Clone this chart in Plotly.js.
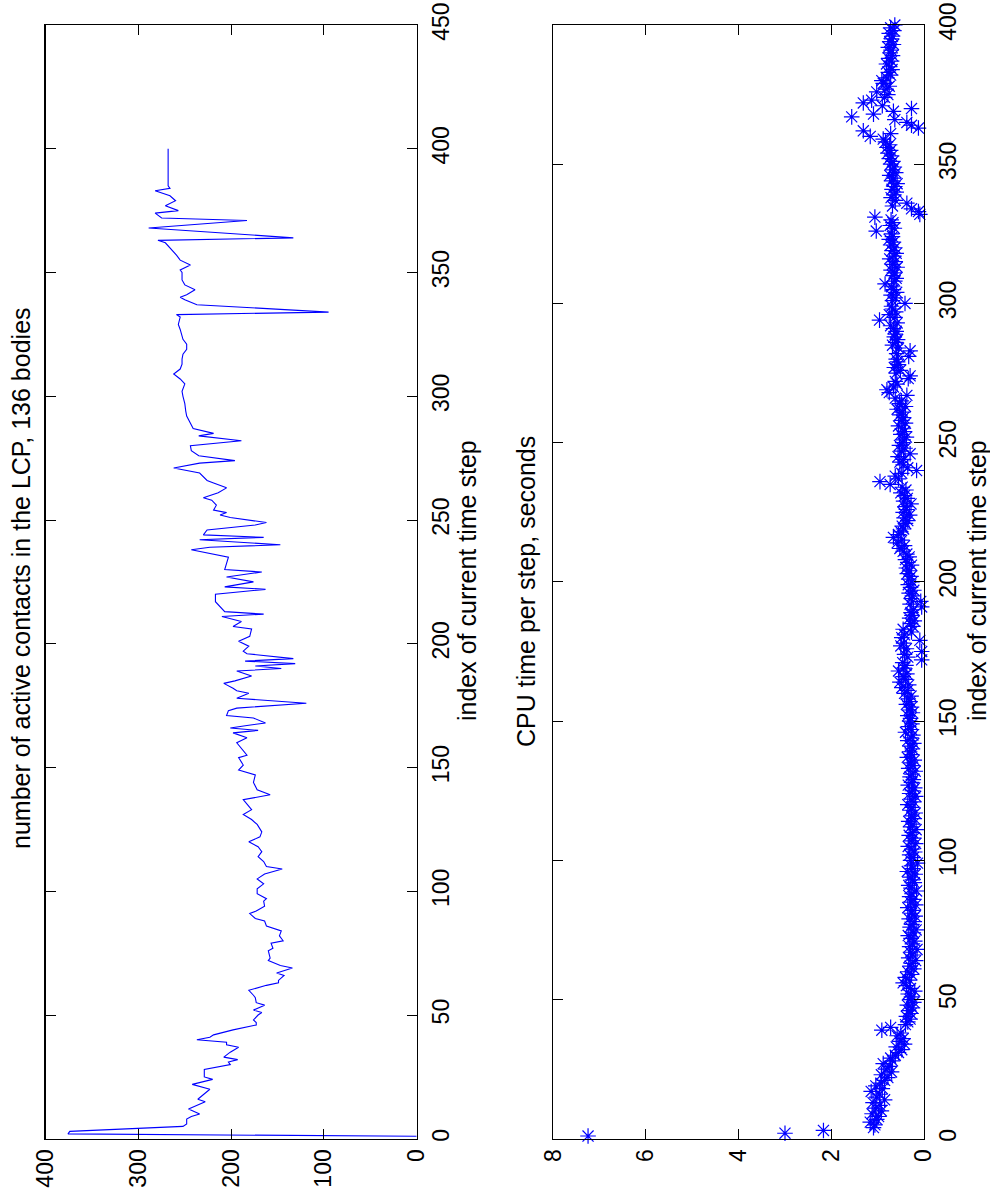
<!DOCTYPE html>
<html>
<head>
<meta charset="utf-8">
<script src="https://cdn.plot.ly/plotly-3.0.1.min.js"></script>
<style>html,body{margin:0;padding:0;background:#fff;}#chart{width:990px;height:1202px;}</style>
</head>
<body>
<div id="chart"></div>
<script>
// ---- Top panel: number of active contacts (line) ----
var contactSteps = [
  1,2,3,5,6,8,9,10,12,13,
  15,16,20,22,24,25,28,30,31,32,
  33,35,37,38,39,40,41,42,44,46,
  47,48,50,51,52,54,55,57,58,60,
  62,63,64,66,67,69,70,72,73,76,
  77,79,80,82,84,86,88,89,91,92,
  94,96,97,99,101,103,105,107,109,110,
  112,114,116,118,120,122,124,127,129,131,
  133,137,139,141,144,147,149,151,154,155,
  158,160,162,164,165,166,167,168,170,171,
  173,174,176,178,180,181,182,184,185,187,
  189,190,191,192,193,194,196,197,199,201,
  203,206,207,209,211,212,213,217,220,222,
  223,225,227,229,230,233,235,238,239,240,
  242,243,244,246,248,249,251,252,253,254,
  256,258,259,261,263,265,266,269,271,273,
  274,276,278,280,282,284,285,287,289,292,
  294,297,300,302,305,307,309,311,313,315,
  317,319,321,323,327,329,332,333,334,337,
  339,340,341,343,345,347,350,351,353,355,
  357,359,362,363,364,368,371,372,374,375,
  377,379,381,383,384,385,389,400
];
var activeContacts = [
  0,376,374,252,248,248,243,234,246,240,
  228,236,223,242,220,229,229,201,203,193,
  208,201,192,205,205,237,223,219,198,173,
  173,176,171,167,176,164,173,174,176,181,
  162,149,149,143,151,134,147,160,158,160,
  155,157,144,148,146,162,164,174,180,173,
  164,165,162,172,172,165,172,164,145,162,
  165,171,167,171,181,169,167,172,178,187,
  178,187,158,172,176,174,192,187,192,183,
  190,194,183,198,171,201,183,163,176,205,
  203,194,119,194,181,194,198,208,196,178,
  194,146,174,131,185,133,183,187,181,192,
  180,178,198,189,210,165,207,217,217,163,
  207,176,205,167,207,205,203,243,223,147,
  234,165,230,226,174,162,201,212,205,219,
  216,221,230,214,205,219,226,234,262,234,
  196,235,243,244,189,235,219,241,244,248,
  249,250,252,253,250,255,262,255,253,253,
  252,248,248,252,255,257,255,259,95,237,
  250,255,248,239,250,253,253,255,244,255,
  259,264,271,279,133,289,183,275,282,257,
  271,260,266,282,266,268,268,268
];

// ---- Bottom panel: CPU time per step (seconds), steps 1..400 ----
var cpuTime = [
  7.25,3.00,2.17,1.09,1.06,1.16,1.02,0.98,1.12,0.92,
  1.05,0.95,1.10,0.85,1.02,0.96,1.14,0.90,1.04,0.93,
  0.85,0.78,0.92,0.70,0.82,0.75,0.88,0.68,0.72,0.62,
  0.55,0.48,0.60,0.42,0.52,0.45,0.58,0.50,0.91,0.72,
  0.40,0.35,0.30,0.38,0.28,0.33,0.25,0.36,0.22,0.30,
  0.27,0.34,0.20,0.29,0.38,0.45,0.31,0.40,0.27,0.35,
  0.22,0.30,0.26,0.18,0.33,0.24,0.29,0.15,0.31,0.25,
  0.20,0.28,0.34,0.23,0.17,0.30,0.26,0.21,0.32,0.19,
  0.27,0.24,0.35,0.18,0.29,0.22,0.31,0.26,0.16,0.28,
  0.33,0.21,0.25,0.30,0.19,0.36,0.24,0.27,0.14,0.29,
  0.23,0.31,0.20,0.26,0.34,0.18,0.28,0.22,0.32,0.25,
  0.17,0.29,0.24,0.33,0.21,0.27,0.19,0.30,0.26,0.35,
  0.22,0.28,0.18,0.31,0.25,0.20,0.34,0.27,0.23,0.30,
  0.26,0.19,0.33,0.24,0.29,0.21,0.36,0.27,0.31,0.25,
  0.30,0.22,0.35,0.28,0.24,0.40,0.27,0.33,0.26,0.31,
  0.29,0.35,0.25,0.32,0.27,0.38,0.30,0.34,0.28,0.42,
  0.36,0.48,0.33,0.52,0.40,0.45,0.37,0.55,0.43,0.39,
  0.46,0.05,0.35,0.42,0.05,0.38,0.50,0.44,0.09,0.48,
  0.42,0.27,0.45,0.24,0.29,0.21,0.31,0.26,0.28,0.23,
  0.05,0.30,0.07,0.27,0.25,0.32,0.22,0.29,0.34,0.26,
  0.33,0.28,0.36,0.31,0.38,0.27,0.35,0.40,0.32,0.37,
  0.45,0.52,0.42,0.58,0.48,0.66,0.55,0.50,0.44,0.47,
  0.40,0.35,0.43,0.31,0.45,0.38,0.41,0.28,0.44,0.36,
  0.42,0.50,0.39,0.47,0.73,0.95,0.55,0.62,0.48,0.16,
  0.35,0.45,0.52,0.44,0.56,0.30,0.49,0.41,0.53,0.46,
  0.45,0.38,0.50,0.42,0.47,0.55,0.40,0.48,0.44,0.52,
  0.46,0.58,0.40,0.53,0.49,0.62,0.37,0.75,0.80,0.66,
  0.58,0.62,0.34,0.30,0.60,0.51,0.64,0.55,0.57,0.60,
  0.33,0.59,0.30,0.55,0.68,0.61,0.57,0.64,0.62,0.60,
  0.66,0.72,0.58,0.96,0.63,0.75,0.61,0.68,0.70,0.41,
  0.68,0.62,0.71,0.59,0.66,0.70,0.84,0.63,0.60,0.67,
  0.64,0.71,0.58,0.68,0.62,0.74,0.65,0.60,0.69,0.63,
  0.72,0.66,0.75,0.68,0.70,1.03,0.64,0.73,0.67,0.71,
  1.06,0.09,0.12,0.27,0.68,0.37,0.62,0.71,0.65,0.60,
  0.69,0.63,0.58,0.70,0.66,0.74,0.61,0.68,0.64,0.72,
  0.67,0.75,0.70,0.78,0.72,0.80,0.74,0.83,0.88,1.16,
  0.72,1.31,0.12,0.27,0.37,0.63,1.56,1.09,0.66,0.27,
  0.90,1.31,1.13,0.85,0.78,1.02,0.82,0.75,0.88,0.91,
  0.80,0.72,0.77,0.69,0.74,0.81,0.70,0.76,0.68,0.73,
  0.71,0.77,0.66,0.74,0.70,0.68,0.75,0.65,0.72,0.63
];
var cpuSteps = cpuTime.map(function (v, i) { return i + 1; });

// ---- Tick labels / texts ----
var contactTicks = [0, 100, 200, 300, 400];
var cpuTicks = [0, 2, 4, 6, 8];
var stepTicksTop = [0, 50, 100, 150, 200, 250, 300, 350, 400, 450];
var stepTicksBottom = [0, 50, 100, 150, 200, 250, 300, 350, 400];
var titleTop = 'number of active contacts in the LCP, 136 bodies';
var titleBottom = 'CPU time per step, seconds';
var stepLabel = 'index of current time step';

var W = 990, H = 1202;
var FONT = 'Liberation Sans, Arial, Helvetica, sans-serif';
var yDom = [(H - 1138.8) / H, (H - 25) / H];

function valAxis(dom, rng, ticks, anchor) {
  return {
    domain: dom, range: rng, tickvals: ticks, ticktext: ticks.map(String),
    ticks: 'inside', ticklen: 10, tickwidth: 1, tickcolor: '#000',
    showline: true, linecolor: '#000', linewidth: 1.3, mirror: 'allticks',
    showgrid: false, zeroline: false, tickangle: -90, anchor: anchor,
    tickfont: { family: FONT, size: 23, color: '#000' }, fixedrange: true
  };
}
function stepAxis(rng, ticks, anchor) {
  return {
    domain: yDom, range: rng, tickvals: ticks, ticktext: ticks.map(String),
    side: 'right', ticks: 'inside', ticklen: 10, tickwidth: 1, tickcolor: '#000',
    showline: true, linecolor: '#000', linewidth: 1.3, mirror: 'allticks',
    showgrid: false, zeroline: false, tickangle: -90, anchor: anchor,
    ticklabelstandoff: 3,
    tickfont: { family: FONT, size: 23, color: '#000' }, fixedrange: true
  };
}

var traces = [
  {
    type: 'scatter', mode: 'lines', x: activeContacts, y: contactSteps,
    xaxis: 'x', yaxis: 'y', line: { color: '#0000ff', width: 1.1 }, hoverinfo: 'skip'
  },
  {
    type: 'scatter', mode: 'markers', x: cpuTime, y: cpuSteps,
    xaxis: 'x2', yaxis: 'y2', cliponaxis: false,
    marker: { symbol: 'asterisk-open', size: 13, color: '#0000ff', line: { color: '#0000ff', width: 1.2 } },
    hoverinfo: 'skip'
  }
];

function ann(px, py, text) {
  return {
    xref: 'paper', yref: 'paper', x: px / W, y: 1 - py / H,
    xanchor: 'center', yanchor: 'middle', textangle: -90, showarrow: false,
    text: text, font: { family: FONT, size: 25, color: '#000' }
  };
}

var layout = {
  width: W, height: H,
  margin: { l: 0, r: 0, t: 0, b: 0 },
  paper_bgcolor: '#fff', plot_bgcolor: '#fff',
  showlegend: false,
  font: { family: FONT, size: 23, color: '#000' },
  xaxis: valAxis([45.7 / W, 416.7 / W], [400, 0], contactTicks, 'y'),
  yaxis: stepAxis([0, 450], stepTicksTop, 'x'),
  xaxis2: valAxis([553.3 / W, 924 / W], [8, 0], cpuTicks, 'y2'),
  yaxis2: stepAxis([0, 400], stepTicksBottom, 'x2'),
  annotations: [
    ann(21, 578, titleTop),
    ann(467, 581, stepLabel),
    ann(526, 592, titleBottom),
    ann(977, 581, stepLabel)
  ]
};

Plotly.newPlot('chart', traces, layout, { displayModeBar: false, staticPlot: true });
</script>
</body>
</html>
